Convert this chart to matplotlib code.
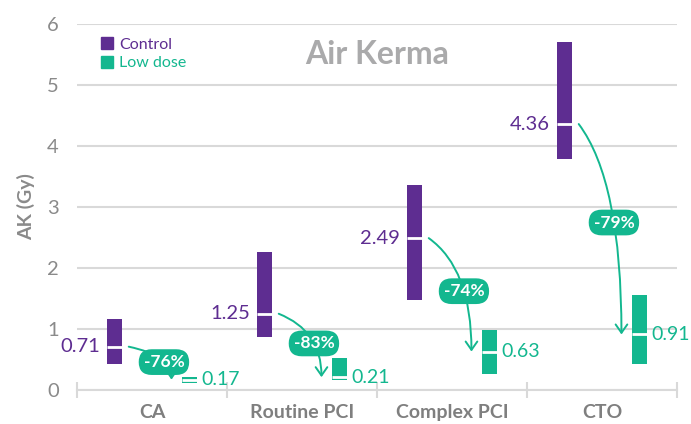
import numpy as np
import matplotlib
matplotlib.use("Agg")
import matplotlib.pyplot as plt
from matplotlib.lines import Line2D
from matplotlib.patches import FancyArrowPatch
from matplotlib.path import Path

categories = ["CA", "Routine PCI", "Complex PCI", "CTO"]
control_median = [0.71, 1.25, 2.49, 4.36]
control_low = [0.42, 0.87, 1.48, 3.79]
control_high = [1.16, 2.26, 3.36, 5.70]
lowdose_median = [0.17, 0.21, 0.63, 0.91]
lowdose_low = [0.11, 0.16, 0.27, 0.42]
lowdose_high = [0.21, 0.52, 0.98, 1.56]
reduction = ["-76%", "-83%", "-74%", "-79%"]

purple = "#5e2d91"
green = "#13b78f"
grid_c = "#d9d9d9"

plt.rcParams['font.family'] = ['Lato', 'DejaVu Sans']

fig = plt.figure(figsize=(6.91, 4.24), dpi=100)
ax = fig.add_axes([0.1114, 0.0802, 0.8683, 0.8632])

x = np.arange(len(categories))
xc = x - 0.25
xl = x + 0.25
w = 0.1

c_lo = np.array(control_low)
c_hi = np.array(control_high)
l_lo = np.array(lowdose_low)
l_hi = np.array(lowdose_high)

ax.bar(xc, c_hi - c_lo, bottom=c_lo, width=w, color=purple, zorder=3)
ax.bar(xl, l_hi - l_lo, bottom=l_lo, width=w, color=green, zorder=3)
ax.hlines(control_median, xc - w / 2, xc + w / 2, color="white", lw=2, zorder=4)
ax.hlines(lowdose_median, xl - w / 2, xl + w / 2, color="white", lw=2, zorder=4)

for i in range(len(categories)):
    ax.text(xc[i] - w / 2 - 0.045, control_median[i], f"{control_median[i]:.2f}",
            ha="right", va="center", color=purple, fontsize=14.5)
    ax.text(xl[i] + w / 2 + 0.03, lowdose_median[i], f"{lowdose_median[i]:.2f}",
            ha="left", va="center", color=green, fontsize=14)

    # curved arrow control -> low dose (quadratic bezier, vertical at the end)
    sx, sy = x[i] - 0.155, control_median[i]
    ex, ey = x[i] + 0.13, lowdose_median[i]
    cx, cy = ex, sy + 0.27 * (ey - sy)
    path = Path([(sx, sy), (cx, cy), (ex, ey)],
                [Path.MOVETO, Path.CURVE3, Path.CURVE3])
    arr = FancyArrowPatch(path=path,
                          arrowstyle="->,head_length=0.5,head_width=0.35",
                          mutation_scale=12, color=green, lw=1.4, zorder=5)
    ax.add_patch(arr)

    t = 0.58
    px = (1 - t) ** 2 * sx + 2 * t * (1 - t) * cx + t ** 2 * ex
    py = (1 - t) ** 2 * sy + 2 * t * (1 - t) * cy + t ** 2 * ey
    ax.text(px, py, reduction[i], ha="center", va="center", color="white",
            fontsize=12.5, fontweight="bold", zorder=6,
            bbox=dict(boxstyle="round,pad=0.28,rounding_size=0.75",
                      fc=green, ec="none"))

ax.set_xlim(-0.5, 3.5)
ax.set_ylim(0, 6)
ax.set_yticks(range(0, 7))
ax.grid(axis="y", color=grid_c, lw=1.5, zorder=0)
ax.set_axisbelow(True)
for s in ["top", "right", "left"]:
    ax.spines[s].set_visible(False)
ax.spines["bottom"].set_color(grid_c)
ax.spines["bottom"].set_linewidth(1.5)

ax.set_xticks(np.arange(-0.5, 4, 1))
ax.set_xticklabels([])
ax.tick_params(axis="x", which="major", direction="inout", length=12,
               width=1.5, color=grid_c)
ax.set_xticks(x, minor=True)
ax.set_xticklabels(categories, minor=True, fontsize=14, fontweight="bold",
                   color="#7f7f7f")
ax.tick_params(axis="x", which="minor", length=0, pad=10)
ax.tick_params(axis="y", length=0, pad=13, labelsize=14.5, labelcolor="#8a8a8a")

ax.set_ylabel("AK (Gy)", fontsize=14, fontweight="bold", color="#8a8a8a",
              labelpad=9)

ax.text(0.5, 0.918, "Air Kerma", transform=ax.transAxes, ha="center",
        va="center", fontsize=23, fontweight="bold", color="#aaaaab")

handles = [Line2D([], [], marker="s", ls="", color=purple, markersize=8),
           Line2D([], [], marker="s", ls="", color=green, markersize=8)]
leg = ax.legend(handles, ["Control", "Low dose"], loc="upper left",
                bbox_to_anchor=(0.040, 0.962), frameon=False, fontsize=11.5,
                borderpad=0, borderaxespad=0,
                handlelength=0.8, handletextpad=0.35, labelspacing=0.25,
                labelcolor=[purple, green])

fig.savefig("out.png", dpi=100)
